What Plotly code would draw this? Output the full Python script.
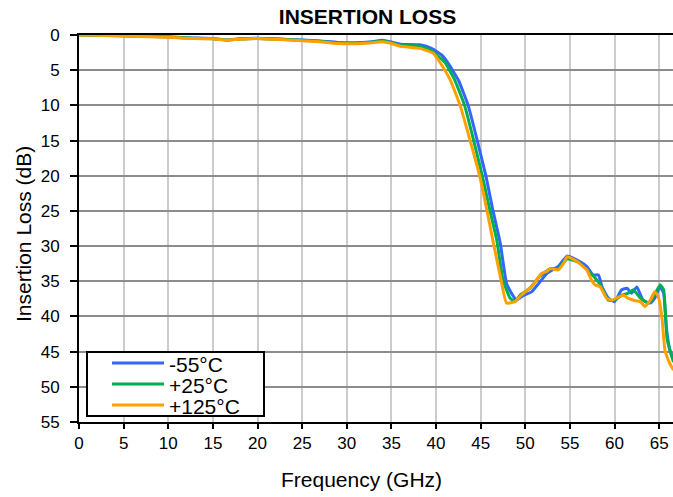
import plotly.graph_objects as go

# ---- data ----
freq_m55 = [0, 2, 5, 8, 10, 12, 15, 16.5, 18, 20, 22, 25, 27, 29, 31, 32.5, 34, 35, 36, 38.2, 39.5,
            40.6, 41.3, 42.5, 43.6, 44.6, 45.6, 46.3, 47.2, 47.9, 48.7, 49.0, 49.8, 50.7, 51.5, 52.4,
            53.7, 54.7, 56.1, 56.9, 57.6, 58.2, 58.6, 59.3, 60.0, 60.8, 61.4, 61.9, 62.5, 63.2, 64.0,
            64.5, 65.1, 65.5, 65.8, 66.2, 66.6]
il_m55 = [-0.05, 0.0, 0.1, 0.2, 0.25, 0.4, 0.5, 0.7, 0.55, 0.45, 0.55, 0.7, 0.85, 1.05, 1.1, 1.0, 0.75, 1.0, 1.3, 1.4, 1.9,
          2.8, 3.9, 6.4, 10.0, 14.9, 20.1, 24.5, 29.6, 35.3, 37.2, 37.7, 37.0, 36.5, 35.3, 33.9,
          32.9, 31.4, 32.2, 32.9, 34.1, 34.1, 35.8, 37.4, 37.9, 36.2, 36.0, 36.7, 35.8, 37.7, 38.1,
          37.4, 35.8, 36.7, 41.5, 44.8, 46.0]

freq_p25 = [0, 2, 5, 8, 10, 12, 15, 16.5, 18, 20, 22, 25, 27, 29, 31, 32.5, 34, 35, 36, 38.2, 39.6,
            40.5, 41.0, 42.1, 43.2, 44.2, 45.2, 46.0, 46.8, 47.5, 48.3, 48.85, 49.4, 50.5, 51.6, 52.8,
            53.7, 54.7, 56.1, 57.1, 57.8, 58.4, 59.3, 60.0, 60.8, 61.5, 62.1, 62.9, 63.8, 64.3, 65.1,
            65.5, 65.9, 66.6]
il_p25 = [0.0, 0.05, 0.12, 0.22, 0.28, 0.42, 0.52, 0.72, 0.57, 0.48, 0.58, 0.75, 0.9, 1.12, 1.17, 1.07, 0.85, 1.1, 1.45, 1.6, 2.3,
          3.3, 3.9, 6.4, 10.0, 14.9, 20.1, 24.7, 29.1, 34.8, 37.4, 37.9, 37.0, 36.0, 34.3, 33.2,
          33.2, 31.8, 32.4, 33.6, 34.5, 35.5, 37.7, 37.7, 37.0, 36.7, 36.2, 37.4, 38.1, 37.4, 35.5,
          36.2, 43.3, 46.5]

freq_p125 = [0, 2, 5, 8, 10, 12, 15, 16.5, 18, 20, 22, 25, 27, 29, 31, 32.5, 34, 35, 36.0, 38.2, 39.7,
             40.4, 41.6, 42.7, 43.8, 44.9, 45.7, 46.4, 47.2, 47.9, 48.85, 49.4, 49.97, 50.9, 51.8, 52.4,
             52.8, 53.7, 54.3, 54.7, 55.8, 56.9, 57.4, 57.8, 58.4, 59.1, 59.7, 60.2, 61.0, 61.5, 62.1,
             62.9, 63.4, 64.0, 64.5, 64.9, 65.3, 65.65, 66.2, 66.6]
il_p125 = [0.0, 0.05, 0.15, 0.25, 0.32, 0.45, 0.55, 0.75, 0.6, 0.5, 0.62, 0.8, 0.95, 1.2, 1.25, 1.15, 0.95, 1.2, 1.6, 1.9, 2.6,
           3.8, 6.4, 10.0, 14.9, 20.1, 24.9, 29.4, 34.3, 38.1, 37.9, 37.2, 36.5, 35.5, 33.9, 33.6,
           33.2, 33.4, 32.4, 31.5, 32.2, 33.4, 34.8, 35.5, 35.8, 37.4, 37.7, 37.4, 37.0, 37.4, 37.7,
           37.9, 38.6, 37.7, 36.5, 37.2, 40.0, 44.8, 46.7, 47.6]

series_names = ["-55°C", "+25°C", "+125°C"]
series_colors = ["#3366FF", "#00B050", "#FFA000"]

x_ticks = list(range(0, 70, 5))
y_ticks = list(range(0, 60, 5))

# ---- layout geometry (pixels) ----
W, H = 673, 497
L, R, T, B = 79, 673, 35, 422


def px_x(p):
    return (p - L) / (R - L)


def px_y(p):
    return (B - p) / (B - T)


fig = go.Figure()
for name, xs, ys, col in zip(series_names, [freq_m55, freq_p25, freq_p125],
                             [il_m55, il_p25, il_p125], series_colors):
    fig.add_trace(go.Scatter(x=xs, y=ys, mode="lines", name=name, showlegend=False,
                             line=dict(color=col, width=3, shape="spline", smoothing=0.4)))

font = "Liberation Sans, Arial, sans-serif"
fig.update_layout(
    width=W, height=H,
    margin=dict(l=L, r=W - R, t=T, b=H - B),
    paper_bgcolor="white", plot_bgcolor="white",
    font=dict(family=font, color="black", size=17),
    title=dict(text="<b>INSERTION LOSS</b>", font=dict(size=21, family=font, color="black"),
               x=367.5 / W, xref="container", xanchor="center",
               y=1 - 17 / H, yref="container", yanchor="middle"),
    showlegend=False,
)
fig.update_xaxes(range=[0, 66.55], tickvals=x_ticks, ticktext=[str(v) for v in x_ticks],
                 showline=True, linecolor="black", linewidth=2, mirror=True,
                 ticks="outside", ticklen=5, tickcolor="black", tickwidth=1.5,
                 showgrid=True, gridcolor="#CCCCCC", gridwidth=1.5, zeroline=False,
                 tickfont=dict(size=17))
fig.update_yaxes(range=[55, 0], tickvals=y_ticks, ticktext=[str(v) for v in y_ticks],
                 showline=True, linecolor="black", linewidth=2, mirror=False,
                 ticks="outside", ticklen=7, tickcolor="black", tickwidth=1.5,
                 ticklabelstandoff=7,
                 showgrid=True, gridcolor="#8C8C8C", gridwidth=1.5, zeroline=False,
                 tickfont=dict(size=17))

# axis titles
fig.add_annotation(text="Frequency (GHz)", xref="paper", yref="paper",
                   x=px_x(361), y=px_y(479), xanchor="center", yanchor="middle",
                   showarrow=False, font=dict(size=21, family=font, color="black"))
fig.add_annotation(text="Insertion Loss (dB)", xref="paper", yref="paper",
                   x=px_x(23), y=px_y(234), xanchor="center", yanchor="middle",
                   textangle=-90, showarrow=False, font=dict(size=21, family=font, color="black"))

# legend box (drawn as a key, with line samples and labels)
fig.add_shape(type="rect", xref="paper", yref="paper",
              x0=px_x(87), x1=px_x(264), y0=px_y(416), y1=px_y(352),
              line=dict(color="black", width=2), fillcolor="white", layer="above")
legend_rows = [363, 384, 405]
for name, col, ry in zip(series_names, series_colors, legend_rows):
    fig.add_shape(type="line", xref="paper", yref="paper",
                  x0=px_x(112), x1=px_x(164), y0=px_y(ry), y1=px_y(ry),
                  line=dict(color=col, width=3), layer="above")
    fig.add_annotation(text=name, xref="paper", yref="paper",
                       x=px_x(167), y=px_y(ry + 1), xanchor="left", yanchor="middle",
                       showarrow=False, font=dict(size=21, family=font, color="black"))

fig.write_html("out.html", config={"displayModeBar": False},
               post_script="document.body.style.margin='0';")
